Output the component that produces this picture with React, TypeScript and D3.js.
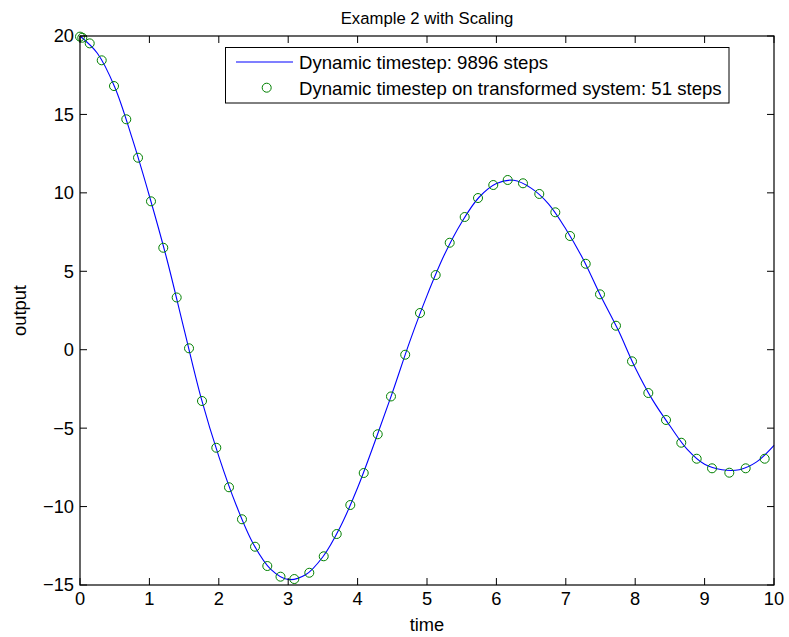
import React from "react";
import * as d3 from "d3";

const xTicks = [0, 1, 2, 3, 4, 5, 6, 7, 8, 9, 10];
const yTicks = [-15, -10, -5, 0, 5, 10, 15, 20];

const lineT = [0, 0.25, 0.5, 0.75, 1.0, 1.25, 1.5, 1.75, 2.0, 2.25, 2.5, 2.75, 3.0, 3.25, 3.5, 3.75, 4.0, 4.25, 4.5, 4.75, 5.0, 5.25, 5.5, 5.75, 6.0, 6.25, 6.5, 6.75, 7.0, 7.25, 7.5, 7.75, 8.0, 8.25, 8.5, 8.75, 9.0, 9.25, 9.5, 9.75, 10.0];
const lineY = [20, 18.9, 16.75, 13.5, 9.8, 5.8, 1.3, -3.15, -6.8, -9.9, -12.4, -14.0, -14.65, -14.35, -13.2, -11.3, -8.8, -5.85, -2.75, 0.5, 3.45, 6.05, 8.13, 9.72, 10.6, 10.8, 10.3, 9.3, 7.7, 5.77, 3.46, 1.3, -1.15, -3.2, -4.85, -6.35, -7.3, -7.65, -7.65, -7.15, -6.1];

const markT = [0, 0.033, 0.14, 0.313, 0.49, 0.667, 0.836, 1.023, 1.2, 1.393, 1.571, 1.758, 1.964, 2.147, 2.334, 2.522, 2.699, 2.889, 3.088, 3.304, 3.512, 3.699, 3.895, 4.088, 4.29, 4.481, 4.686, 4.899, 5.125, 5.327, 5.543, 5.735, 5.955, 6.163, 6.383, 6.618, 6.849, 7.061, 7.287, 7.493, 7.723, 7.954, 8.189, 8.444, 8.664, 8.886, 9.107, 9.356, 9.592, 9.866];
const markY = [19.96, 19.89, 19.53, 18.45, 16.81, 14.69, 12.24, 9.46, 6.5, 3.33, 0.09, -3.27, -6.25, -8.77, -10.81, -12.56, -13.79, -14.47, -14.62, -14.22, -13.17, -11.75, -9.9, -7.86, -5.39, -2.98, -0.32, 2.34, 4.76, 6.82, 8.46, 9.67, 10.5, 10.82, 10.61, 9.93, 8.76, 7.25, 5.48, 3.53, 1.53, -0.74, -2.76, -4.48, -5.93, -6.95, -7.56, -7.84, -7.56, -6.95];

const titleText = "Example 2 with Scaling";
const xLabel = "time";
const yLabel = "output";
const legendLabels = ["Dynamic timestep: 9896 steps", "Dynamic timestep on transformed system: 51 steps"];

const W = 789, H = 637;
const L = 80, R = 774, T = 36, B = 585;
const FONT = "'Liberation Sans', Arial, Helvetica, sans-serif";
const FS = 18.3;

export default function App() {
  const x = d3.scaleLinear().domain([0, 10]).range([L, R]);
  const y = d3.scaleLinear().domain([-15, 20]).range([B, T]);
  const lineData = lineT.map((t, i) => [t, lineY[i]] as [number, number]);
  const path = d3.line<[number, number]>().x(d => x(d[0])).y(d => y(d[1])).curve(d3.curveCatmullRom.alpha(0.5))(lineData) || "";
  const tl = 7;
  return (
    <svg width={W} height={H} style={{ position: "absolute", left: 0, top: 0, background: "#fff" }} fontFamily={FONT}>
      <rect x={0} y={0} width={W} height={H} fill="#fff" />
      <rect x={L} y={T} width={R - L} height={B - T} fill="#fff" />
      <path d={path} fill="none" stroke="#0000ff" strokeWidth={1.1} />
      {markT.map((t, i) => (
        <circle key={i} cx={x(t)} cy={y(markY[i])} r={4.5} fill="none" stroke="#008000" strokeWidth={1} />
      ))}
      {xTicks.map(v => (
        <g key={"x" + v}>
          <line x1={x(v)} x2={x(v)} y1={B} y2={B - tl} stroke="#000" />
          <line x1={x(v)} x2={x(v)} y1={T} y2={T + tl} stroke="#000" />
          <text x={x(v)} y={605} textAnchor="middle" fontSize={FS}>{v}</text>
        </g>
      ))}
      {yTicks.map(v => (
        <g key={"y" + v}>
          <line x1={L} x2={L + tl} y1={y(v)} y2={y(v)} stroke="#000" />
          <line x1={R} x2={R - tl} y1={y(v)} y2={y(v)} stroke="#000" />
          <text x={74} y={y(v)} dy="0.35em" textAnchor="end" fontSize={FS}>{v < 0 ? "\u2212" + Math.abs(v) : v}</text>
        </g>
      ))}
      <rect x={L} y={T} width={R - L} height={B - T} fill="none" stroke="#000" strokeWidth={1.2} />
      <text x={(L + R) / 2} y={24} textAnchor="middle" fontSize={16.7}>{titleText}</text>
      <text x={(L + R) / 2} y={631} textAnchor="middle" fontSize={FS}>{xLabel}</text>
      <text transform={`translate(26,${(T + B) / 2}) rotate(-90)`} textAnchor="middle" fontSize={FS}>{yLabel}</text>
      <g>
        <rect x={225.5} y={47.5} width={503.5} height={55.5} fill="#fff" stroke="#000" strokeWidth={1} />
        <line x1={236} x2={293} y1={62} y2={62} stroke="#0000ff" strokeWidth={1.1} />
        <circle cx={266.7} cy={87.7} r={4.5} fill="none" stroke="#008000" strokeWidth={1} />
        <text x={299} y={62} dy="0.35em" fontSize={18.6}>{legendLabels[0]}</text>
        <text x={299} y={88} dy="0.35em" fontSize={18.6}>{legendLabels[1]}</text>
      </g>
    </svg>
  );
}
